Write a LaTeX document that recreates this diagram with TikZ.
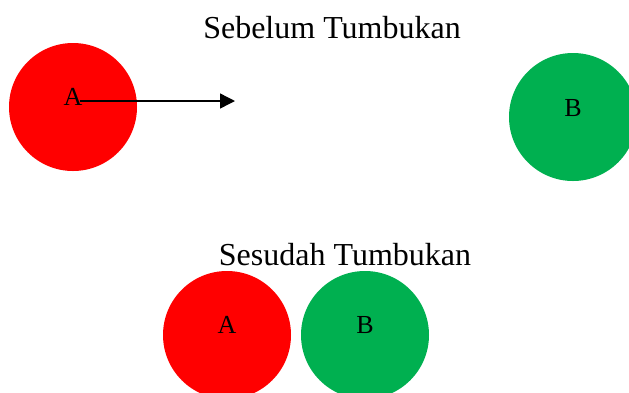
\documentclass[tikz,border=0pt]{standalone}
\usepackage{fontspec}
\setmainfont{Liberation Serif}
\usetikzlibrary{arrows.meta}
\definecolor{ballred}{HTML}{FF0000}
\definecolor{ballgreen}{HTML}{00B050}
\tikzset{
  ball/.style={circle, minimum size=128pt, inner sep=0pt, draw=none},
  redball/.style={ball, fill=ballred},
  greenball/.style={ball, fill=ballgreen},
  lbl/.style={font=\fontsize{26}{26}\selectfont, inner sep=0pt},
  ttl/.style={font=\fontsize{32}{32}\selectfont, inner sep=0pt, anchor=base},
  motion/.style={line width=1.4pt, -{Triangle[length=15pt,width=15pt]}}
}
\begin{document}
\begin{tikzpicture}[x=1pt,y=-1pt]
\useasboundingbox (0,0) rectangle (629,392);
\clip (0,0) rectangle (629,392);
% before collision
\node[ttl] (t1) at (332,38) {Sebelum Tumbukan};
\node[redball] (A1) at (73,107) {};
\node[greenball] (B1) at (573,117) {};
\node[lbl] (la1) at (73,97) {A};
\node[lbl] (lb1) at (573,108) {B};
\coordinate (s) at (80,101);
\coordinate (e) at (235,101);
\draw[motion] (s) -- (e);
% after collision
\node[ttl] (t2) at (345,265) {Sesudah Tumbukan};
\node[redball] (A2) at (227,335) {};
\node[greenball] (B2) at (365,335) {};
\node[lbl] (la2) at (227,325) {A};
\node[lbl] (lb2) at (365,325) {B};
\end{tikzpicture}
\end{document}
